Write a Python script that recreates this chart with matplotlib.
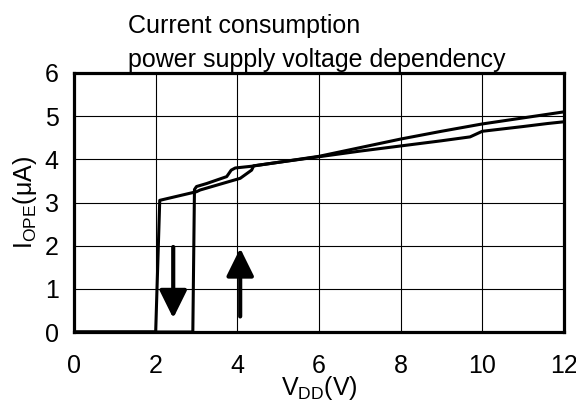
import matplotlib
matplotlib.use("Agg")
import matplotlib.pyplot as plt

plt.rcParams['font.family'] = ['Liberation Sans', 'DejaVu Sans']
plt.rcParams['mathtext.fontset'] = 'custom'
plt.rcParams['mathtext.rm'] = 'Liberation Sans'
plt.rcParams['mathtext.it'] = 'Liberation Sans:italic'

# Data
rising_v = [0.0, 2.91, 2.95, 3.0, 3.25, 3.74, 3.85, 3.95, 4.35, 5.0, 5.5, 6.0, 7.0, 8.0, 9.0, 10.0, 11.0, 12.0]
rising_i = [0.0, 0.0, 3.30, 3.37, 3.44, 3.60, 3.75, 3.80, 3.84, 3.93, 4.00, 4.07, 4.27, 4.47, 4.65, 4.82, 4.96, 5.10]
falling_v = [12.0, 11.6, 11.0, 10.0, 9.7, 9.0, 8.0, 7.0, 6.0, 5.0, 4.4, 4.35, 4.07, 3.09, 3.0, 2.1, 2.0, 0.0]
falling_i = [4.87, 4.83, 4.76, 4.65, 4.52, 4.43, 4.31, 4.19, 4.06, 3.93, 3.85, 3.75, 3.56, 3.29, 3.25, 3.05, 0.0, 0.0]
x_ticks = [0, 2, 4, 6, 8, 10, 12]
y_ticks = [0, 1, 2, 3, 4, 5, 6]

fig = plt.figure(figsize=(5.76, 4.01), dpi=100)
ax = fig.add_axes([74/576, 1-332/401, 490/576, 259/401])

ax.plot(rising_v, rising_i, color='black', lw=2.2, solid_joinstyle='round')
ax.plot(falling_v, falling_i, color='black', lw=2.2, solid_joinstyle='round')

ax.set_xlim(0, 12)
ax.set_ylim(0, 6)
ax.set_xticks(x_ticks)
ax.set_yticks(y_ticks)
ax.grid(True, color='black', lw=0.8)
ax.set_axisbelow(True)
for s in ax.spines.values():
    s.set_linewidth(2.3)
ax.tick_params(length=0, labelsize=18)
ax.tick_params(axis='x', pad=16)
ax.tick_params(axis='y', pad=11)

ax.set_xlabel(r'$\mathrm{V_{DD}(V)}$', fontsize=18, labelpad=-3)
ax.set_ylabel(r'$\mathrm{I_{OPE}(μA)}$', fontsize=18, labelpad=4)

# arrows
arrow_props = dict(arrowstyle='-|>,head_length=0.85,head_width=0.42', lw=3,
                   color='black', mutation_scale=20, shrinkA=0, shrinkB=0)
ax.annotate('', xy=(2.43, 0.32), xytext=(2.43, 1.97), arrowprops=arrow_props)
ax.annotate('', xy=(4.07, 1.94), xytext=(4.07, 0.36), arrowprops=arrow_props)

fig.text(128/576, 1-33/401, 'Current consumption', fontsize=18, ha='left', va='baseline')
fig.text(128/576, 1-67/401, 'power supply voltage dependency', fontsize=18, ha='left', va='baseline')

fig.savefig('out.png', dpi=100)
